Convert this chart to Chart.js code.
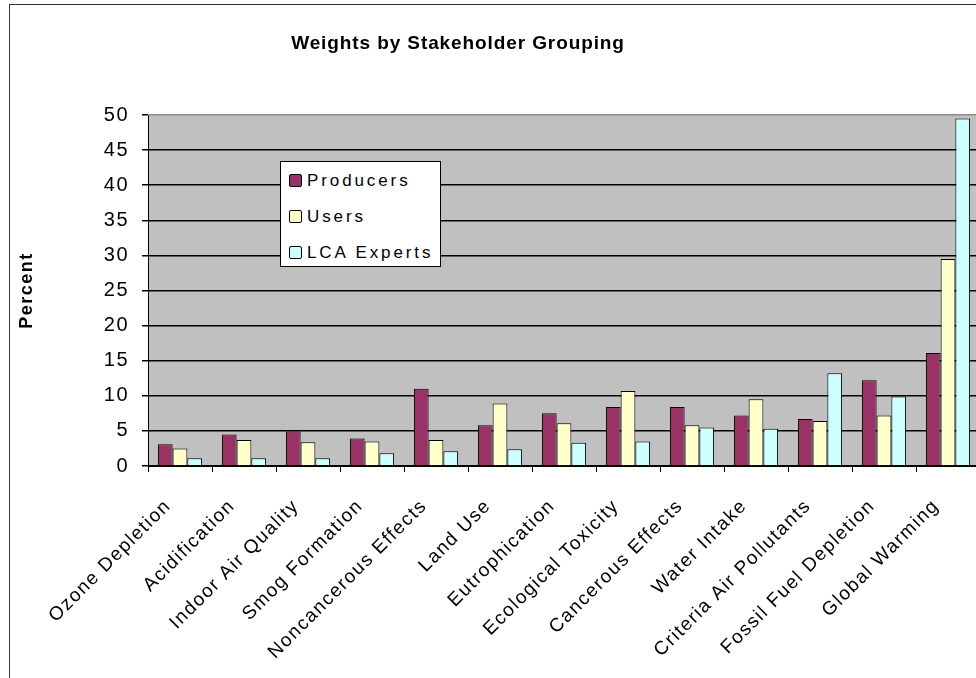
<!DOCTYPE html>
<html>
<head>
<meta charset="utf-8">
<title>Weights by Stakeholder Grouping</title>
<script src="https://cdn.jsdelivr.net/npm/chart.js@4/dist/chart.umd.min.js"></script>
<style>
  html, body { margin: 0; padding: 0; background: #fff; overflow: hidden; }
  #frame {
    position: absolute; left: 9px; top: 4px; width: 2000px; height: 2000px;
    border-left: 1px solid #333; border-top: 1px solid #333;
  }
  #wrap { position: absolute; left: 0; top: 0; width: 1000px; height: 678px; }
  #legend {
    position: absolute; left: 280px; top: 161px; width: 159px; height: 104px;
    background: #fff; border: 1px solid #000;
    font-family: "Liberation Sans", Arial, sans-serif; font-size: 17px; letter-spacing: 2.9px;
  }
  #legend .item { position: absolute; left: 8px; height: 20px; line-height: 20px; white-space: nowrap; }
  #legend .swatch {
    display: inline-block; width: 11px; height: 11px; border: 1px solid #000; border-radius: 2px;
    vertical-align: -1px; margin-right: 5px;
  }
</style>
</head>
<body>
<div id="frame"></div>
<div id="wrap"><canvas id="chart"></canvas></div>
<div id="legend"></div>
<script>
const TITLE = 'Weights by Stakeholder Grouping';

const categories = [
  'Ozone Depletion', 'Acidification', 'Indoor Air Quality', 'Smog Formation',
  'Noncancerous Effects', 'Land Use', 'Eutrophication', 'Ecological Toxicity',
  'Cancerous Effects', 'Water Intake', 'Criteria Air Pollutants',
  'Fossil Fuel Depletion', 'Global Warming'
];

const producers  = [3.1, 4.5, 4.9, 3.9, 11.0, 5.8, 7.5, 8.4, 8.4, 7.2, 6.7, 12.2, 16.1];
const users      = [2.5, 3.7, 3.4, 3.5, 3.7, 8.9, 6.1, 10.7, 5.8, 9.5, 6.4, 7.2, 29.5];
const lcaExperts = [1.1, 1.1, 1.1, 1.8, 2.1, 2.4, 3.3, 3.5, 5.5, 5.3, 13.2, 9.9, 49.5];

const yMin = 0, yMax = 50, yStep = 5;

const FONT = '"Liberation Sans", Arial, sans-serif';

// plot background + wide letter spacing like the old Excel rendering
const sheetLook = {
  id: 'sheetLook',
  beforeLayout(chart) {
    chart.ctx.letterSpacing = '1.5px';
  },
  beforeDraw(chart) {
    const { ctx, chartArea: a } = chart;
    ctx.letterSpacing = '1.5px';
    ctx.save();
    ctx.fillStyle = '#c0c0c0';
    ctx.fillRect(a.left, a.top, a.right - a.left, a.bottom - a.top);
    ctx.restore();
  },
  afterDraw(chart) {
    const ctx = chart.ctx;
    ctx.save();
    ctx.letterSpacing = '0.9px';
    ctx.font = 'bold 19px ' + FONT;
    ctx.fillStyle = '#000';
    ctx.textAlign = 'center';
    ctx.textBaseline = 'middle';
    ctx.fillText(TITLE, 458, 44);
    ctx.restore();
  }
};

const chart = new Chart(document.getElementById('chart'), {
  type: 'bar',
  data: {
    labels: categories,
    datasets: [
      { label: 'Producers', data: producers, backgroundColor: '#993366' },
      { label: 'Users', data: users, backgroundColor: '#ffffcc' },
      { label: 'LCA Experts', data: lcaExperts, backgroundColor: '#ccffff' }
    ].map(d => Object.assign(d, {
      borderColor: '#000',
      borderWidth: 1,
      barPercentage: 1,
      categoryPercentage: 0.69
    }))
  },
  options: {
    responsive: true,
    maintainAspectRatio: false,
    animation: false,
    layout: { padding: { top: 115, right: 20, bottom: 0, left: 0 } },
    plugins: {
      legend: { display: false },
      title: { display: false },
      tooltip: { enabled: false }
    },
    scales: {
      x: {
        afterFit: (scale) => { scale.height = 212; },
        grid: {
          display: true,
          drawOnChartArea: false,
          drawTicks: true,
          tickLength: 6,
          color: '#000',
          offset: true
        },
        border: { display: true, color: '#000', width: 1 },
        ticks: {
          autoSkip: false,
          maxRotation: 45,
          minRotation: 45,
          padding: 23,
          labelOffset: -12,
          color: '#000',
          font: { family: FONT, size: 19 }
        }
      },
      y: {
        min: yMin,
        max: yMax,
        afterFit: (scale) => { scale.width = 148; },
        grid: {
          color: (c) => (c.tick && c.tick.value === yMax ? '#8c8c8c' : '#000'),
          tickColor: '#000',
          lineWidth: 1.5,
          tickLength: 6
        },
        border: { display: true, color: '#000', width: 1 },
        ticks: {
          stepSize: yStep,
          padding: 13,
          color: '#000',
          font: { family: FONT, size: 20 }
        },
        title: {
          display: true,
          text: 'Percent',
          color: '#000',
          font: { family: FONT, size: 18, weight: 'bold' },
          padding: { top: 16, bottom: 0 }
        }
      }
    }
  },
  plugins: [sheetLook]
});

// legend box drawn as html, built from the chart's datasets
const legendEl = document.getElementById('legend');
chart.data.datasets.forEach((ds, i) => {
  const item = document.createElement('div');
  item.className = 'item';
  item.style.top = (9 + i * 36) + 'px';
  const sw = document.createElement('span');
  sw.className = 'swatch';
  sw.style.background = ds.backgroundColor;
  item.appendChild(sw);
  item.appendChild(document.createTextNode(ds.label));
  legendEl.appendChild(item);
});
</script>
</body>
</html>
